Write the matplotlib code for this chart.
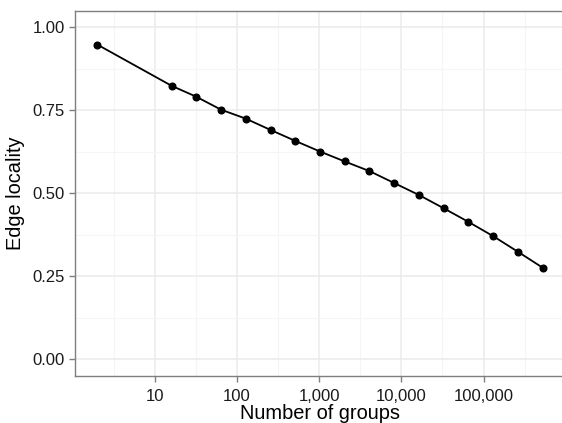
import matplotlib
matplotlib.use('Agg')
import matplotlib.pyplot as plt
from matplotlib.ticker import FixedLocator, FuncFormatter
import numpy as np

plt.rcParams['font.family'] = ['Liberation Sans', 'DejaVu Sans']

# number of groups vs edge locality
groups = [2, 16, 32, 64, 128, 256, 512, 1024, 2048, 4096, 8192,
          16384, 32768, 65536, 131072, 262144, 524288]
locality = [0.948, 0.824, 0.791, 0.752, 0.725, 0.691, 0.658, 0.626, 0.596,
            0.567, 0.531, 0.495, 0.455, 0.414, 0.371, 0.324, 0.276]

x_ticks = [10, 100, 1000, 10000, 100000]
y_ticks = [0.0, 0.25, 0.5, 0.75, 1.0]

fig = plt.figure(figsize=(5.62, 4.23), dpi=100)
ax = fig.add_axes([75 / 562, 47 / 423, 490 / 562, 365.3 / 423])

ax.plot(groups, locality, color='black', lw=1.3, marker='o', ms=4.8, zorder=3)

ax.set_xscale('log')
lo, hi = np.log10(min(groups)), np.log10(max(groups))
pad = 0.05 * (hi - lo)
ax.set_xlim(10 ** (lo - pad), 10 ** (hi + pad))
ax.set_ylim(-0.05, 1.05)

ax.xaxis.set_major_locator(FixedLocator(x_ticks))
ax.xaxis.set_minor_locator(FixedLocator([10 ** (k + 0.5) for k in range(0, 6)]))
ax.xaxis.set_major_formatter(FuncFormatter(lambda v, p: '{:,.0f}'.format(v)))
ax.yaxis.set_major_locator(FixedLocator(y_ticks))
ax.yaxis.set_minor_locator(FixedLocator([0.125, 0.375, 0.625, 0.875]))
ax.yaxis.set_major_formatter(FuncFormatter(lambda v, p: '%.2f' % v))

ax.grid(True, which='major', color='#ebebeb', lw=1.1, zorder=0)
ax.grid(True, which='minor', color='#f5f5f5', lw=0.8, zorder=0)
ax.set_axisbelow(True)

for s in ax.spines.values():
    s.set_color('#7f7f7f')
    s.set_linewidth(1.0)
ax.spines['right'].set_visible(False)

ax.tick_params(which='major', length=4.5, width=1.0, color='#7f7f7f',
               labelsize=12, labelcolor='#1a1a1a', pad=3)
ax.tick_params(axis='x', which='major', pad=4.5)
ax.tick_params(which='minor', length=0)

ax.set_xlabel('Number of groups', fontsize=14.4, labelpad=0)
ax.set_ylabel('Edge locality', fontsize=14.4, labelpad=5)

fig.savefig('out.png', dpi=100)
